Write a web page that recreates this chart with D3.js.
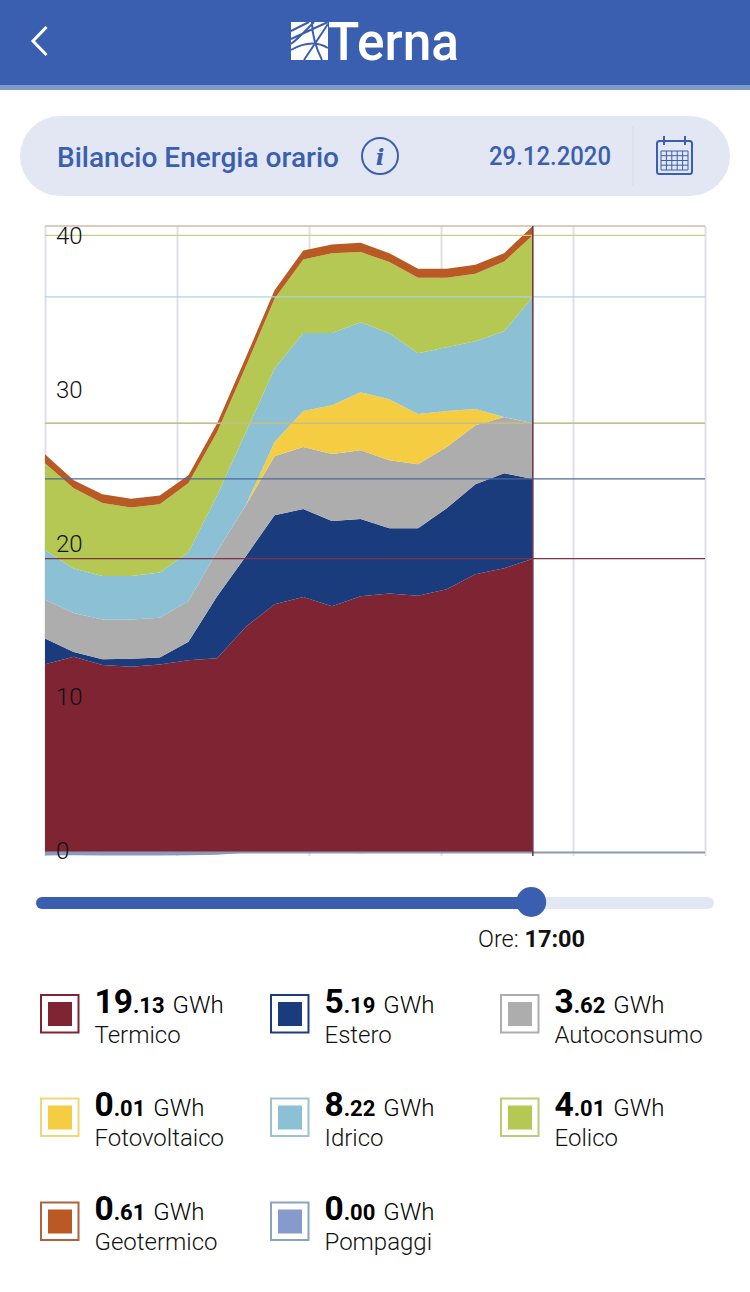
<!DOCTYPE html>
<html><head><meta charset="utf-8">
<script src="https://cdn.jsdelivr.net/npm/d3@7"></script>
<style>html,body{margin:0;padding:0;background:#fff}svg{display:block}text{font-family:Roboto,sans-serif}</style>
</head><body><svg id="c" width="750" height="1292"></svg>
<script>
const hours=[0,1,2,3,4,5,6,7,8,9,10,11,12,13,14,15,16,17];
const termico=[12.26,12.74,12.20,12.09,12.24,12.52,12.65,14.69,16.17,16.64,16.04,16.69,16.86,16.71,17.14,18.12,18.51,19.13];
const estero=[1.68,0.32,0.39,0.52,0.46,1.20,4.04,4.60,5.79,5.72,5.55,5.03,4.25,4.40,5.27,5.86,6.18,5.19];
const autoconsumo=[2.53,2.54,2.58,2.56,2.58,2.66,2.93,3.32,3.84,4.04,4.36,4.47,4.43,4.17,3.99,3.84,3.66,3.62];
const fotovoltaico=[0,0,0,0,0,0,0,0.01,0.93,2.34,3.17,3.77,3.97,3.27,2.34,1.05,0.01,0.01];
const idrico=[3.21,2.89,2.84,2.84,2.95,3.17,3.64,4.74,4.79,5.08,4.70,4.57,4.29,3.95,4.15,4.41,5.57,8.22];
const eolico=[5.66,5.23,4.75,4.45,4.44,4.51,4.12,4.29,4.54,4.79,5.20,4.56,4.64,4.92,4.53,4.40,4.55,4.01];
const geotermico=[0.59,0.52,0.56,0.58,0.57,0.50,0.57,0.59,0.54,0.59,0.57,0.61,0.58,0.59,0.59,0.59,0.54,0.61];
const pompaggi=[-0.20,-0.18,-0.20,-0.20,-0.20,-0.18,-0.14,-0.01,0,0,0,-0.05,0,0,0,0,0,0];
const seriesNames=["Termico","Estero","Autoconsumo","Fotovoltaico","Idrico","Eolico","Geotermico","Pompaggi"];
const seriesValues=[termico,estero,autoconsumo,fotovoltaico,idrico,eolico,geotermico,pompaggi];
const seriesColors=["#7e2433","#1b3c7c","#adadad","#f5cd42","#8bc0d5","#b4c853","#b95a24","#869bcb"];
const lineColors=["#7e3346","#4c6a96","#b3b3b3","#cdbf78","#a9d5e6","#c6d184","#d2bba8","#8d9ab0"];
const frameColors=["#7e2433","#1b3c7c","#adadad","#efd778","#9cc2d0","#bccb76","#ac643c","#8ba3bf"];
const yTicks=[0,10,20,30,40];
const gridHours=[0,4.6,9.2,13.8,18.4,23];
const currentHour=17, currentLabel="17:00";

const svg=d3.select("#c");
const blue="#3b5fb0", pale="#e3e7f3";
const fit=(sel,w)=>sel.attr("textLength",w).attr("lengthAdjust","spacingAndGlyphs");

// header
svg.append("rect").attr("width",750).attr("height",85).attr("fill",blue);
svg.append("rect").attr("y",85).attr("width",750).attr("height",5).attr("fill","#7f9cc6");
svg.append("path").attr("d","M46.5 27L33 41L46.5 55").attr("fill","none").attr("stroke","#fff").attr("stroke-width",3);
const logo=svg.append("g");
logo.append("rect").attr("x",291).attr("y",22).attr("width",37).attr("height",38).attr("fill","#fff");
logo.append("path").attr("d","M291 39L328 22M291 31L309 22M304 60L328 24M291 50C305 42 318 42 328 48M312 22C312 36 316 48 322 60M291 44C300 37 306 30 314 22")
  .attr("fill","none").attr("stroke",blue).attr("stroke-width",2);
fit(logo.append("text").attr("x",328).attr("y",60).attr("font-size",54).attr("font-weight",500).attr("fill","#fff").text("Terna"),131);

// title pill
svg.append("rect").attr("x",20).attr("y",116).attr("width",710).attr("height",80).attr("rx",40).attr("fill",pale);
fit(svg.append("text").attr("x",57).attr("y",166.5).attr("font-size",28).attr("font-weight",500).attr("fill",blue).text("Bilancio Energia orario"),282);
svg.append("circle").attr("cx",380).attr("cy",156).attr("r",18).attr("fill","none").attr("stroke",blue).attr("stroke-width",2);
svg.append("text").attr("x",380).attr("y",165).attr("text-anchor","middle").style("font-family","'DejaVu Serif',serif").attr("font-style","italic").attr("font-weight",700).attr("font-size",23).attr("fill",blue).text("i");
fit(svg.append("text").attr("x",489).attr("y",165).attr("font-size",25).attr("font-weight",500).attr("fill",blue).text("29.12.2020"),122);
svg.append("rect").attr("x",632.5).attr("y",126).attr("width",1).attr("height",60).attr("fill","#d6dbe9");
const cal=svg.append("g").attr("fill","none").attr("stroke",blue);
cal.append("rect").attr("x",657).attr("y",141).attr("width",35).attr("height",33).attr("rx",2.5).attr("stroke-width",2);
cal.append("path").attr("d","M664 136V145M685 136V145").attr("stroke-width",2);
cal.append("path").attr("d","M661 151H688V170H661ZM661 155.7H688M661 160.5H688M661 165.2H688M666.4 151V170M671.8 151V170M677.2 151V170M682.6 151V170").attr("stroke-width",1);

// scales
const x=d3.scaleLinear().domain([0,23]).range([45,705]);
const y=d3.scaleLinear().domain([0,40.79]).range([852.5,226]);

// vertical grid
const gridAxis=d3.axisBottom(x).tickValues(gridHours).tickSize(630).tickFormat("");
const gridG=svg.append("g").attr("transform","translate(0,226)").call(gridAxis);
gridG.select(".domain").remove();
gridG.selectAll("line").attr("stroke","#dfe1e6").attr("stroke-width",2);

// stacked areas
const table=hours.map((h,i)=>{const r={hour:h};seriesNames.forEach((n,k)=>r[n]=seriesValues[k][i]);return r;});
const stacked=d3.stack().keys(seriesNames.slice(0,7))(table);
const area=d3.area().x(d=>x(d.data.hour)).y0(d=>y(d[0])).y1(d=>y(d[1]));
svg.append("g").selectAll("path").data(stacked).join("path").attr("d",area).attr("fill",(d,i)=>seriesColors[i]);
svg.append("path").datum(table)
  .attr("d",d3.area().x(d=>x(d.hour)).y0(y(0)).y1(d=>y(d.Pompaggi)))
  .attr("fill",seriesColors[7]);

// crosshair
const idx=hours.indexOf(currentHour);
const levels=stacked.map(s=>s[idx][1]);
const crossY=[...levels,0];
svg.append("g").selectAll("line").data(crossY).join("line")
  .attr("x1",x(0)).attr("x2",x(23)).attr("y1",d=>y(d)).attr("y2",d=>y(d))
  .attr("stroke",(d,i)=>lineColors[i]).attr("stroke-width",(d,i)=>i===7?2:1.3);
svg.append("line").attr("x1",x(currentHour)).attr("x2",x(currentHour)).attr("y1",226).attr("y2",856)
  .attr("stroke","#6e3a50").attr("stroke-width",1.6);

// y labels
const yAxis=d3.axisRight(y).tickValues(yTicks).tickSize(0).tickPadding(11);
const yG=svg.append("g").attr("transform","translate(45,0)").call(yAxis);
yG.select(".domain").remove();
yG.selectAll("text").attr("font-size",24).attr("font-weight",300).attr("dy","0.24em").attr("fill","#111").style("font-family","Roboto,sans-serif");

// slider
const slider=d3.scaleLinear().domain([0,23]).range([36,706]);
svg.append("rect").attr("x",36).attr("y",897).attr("width",678).attr("height",12).attr("rx",6).attr("fill",pale);
svg.append("rect").attr("x",36).attr("y",897).attr("width",slider(currentHour)-36).attr("height",12).attr("rx",6).attr("fill",blue);
svg.append("circle").attr("cx",slider(currentHour)).attr("cy",902).attr("r",15).attr("fill",blue);
const ore=svg.append("text").attr("x",478).attr("y",947).attr("font-size",23.5).attr("fill","#111");
ore.append("tspan").attr("font-weight",300).text("Ore: ");
ore.append("tspan").attr("font-weight",700).text(currentLabel);

// legend
const colX=[40,270,500], rowY=[994,1097.5,1201.5], textShift=[0,-1,-1];
seriesNames.forEach((n,k)=>{
  const row=Math.floor(k/3);
  const g=svg.append("g").attr("transform",`translate(${colX[k%3]},${rowY[row]})`);
  g.append("rect").attr("x",1).attr("y",1).attr("width",37.5).attr("height",37.5).attr("fill","#fff").attr("stroke",frameColors[k]).attr("stroke-width",2);
  g.append("rect").attr("x",8).attr("y",8).attr("width",24).attr("height",24).attr("fill",seriesColors[k]);
  const [a,b]=seriesValues[k][idx].toFixed(2).split(".");
  const t=g.append("text").attr("x",54.5).attr("y",19+textShift[row]).attr("fill","#000");
  t.append("tspan").attr("font-size",33.5).attr("font-weight",700).text(a);
  t.append("tspan").attr("font-size",22).attr("font-weight",700).text("."+b);
  t.append("tspan").attr("font-size",24).attr("font-weight",300).attr("dx",8).text("GWh");
  g.append("text").attr("x",54.5).attr("y",49+textShift[row]).attr("font-size",24).attr("font-weight",300).attr("fill","#111").text(n);
});
</script></body></html>
